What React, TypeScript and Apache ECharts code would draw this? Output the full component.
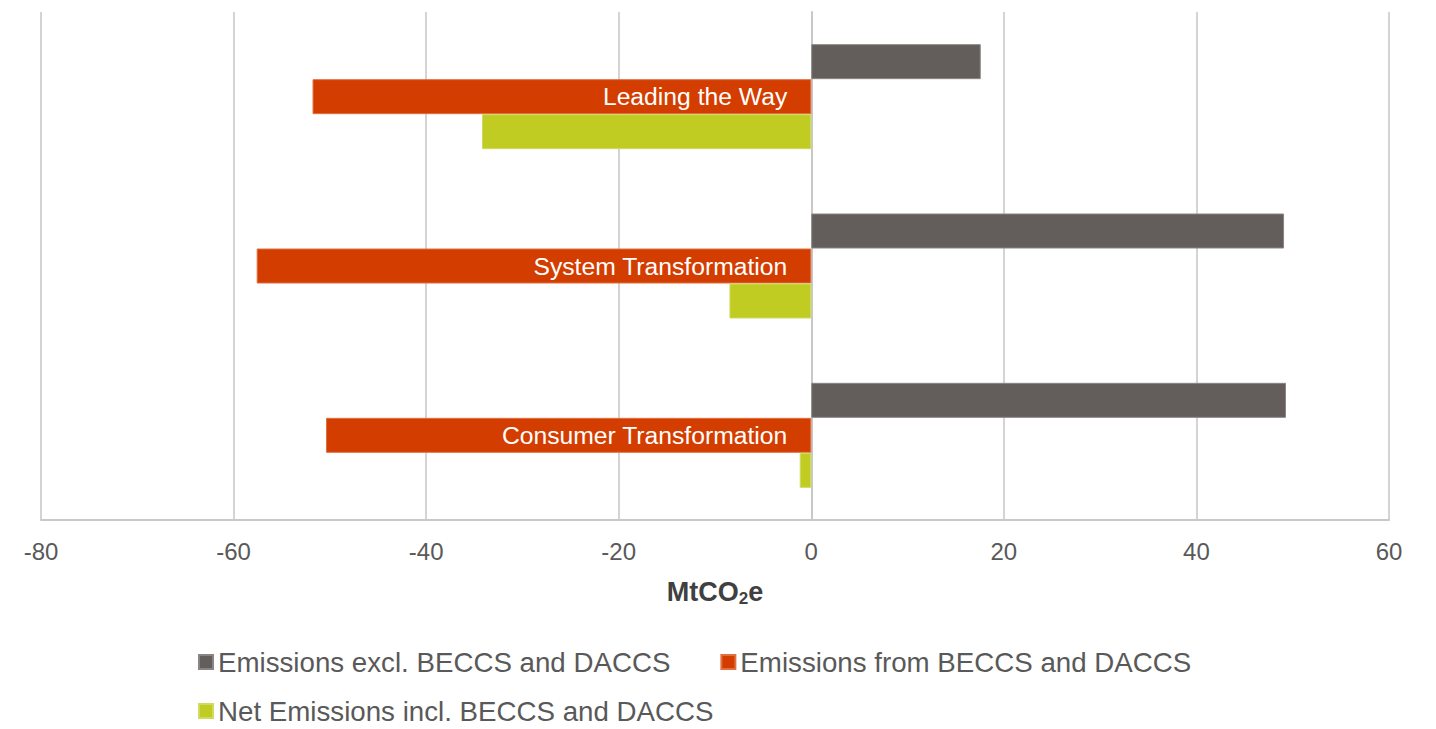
import React, { useEffect, useRef } from "react";
import * as echarts from "echarts";

const categories = ["Leading the Way", "System Transformation", "Consumer Transformation"];
const seriesNames = [
  "Emissions excl. BECCS and DACCS",
  "Emissions from BECCS and DACCS",
  "Net Emissions incl. BECCS and DACCS",
];
const excl = [17.6, 49.1, 49.3];
const fromBeccs = [-51.8, -57.6, -50.4];
const net = [-34.2, -8.5, -1.2];
const xTicks = { min: -80, max: 60, interval: 20 };

const colors = ["#635d5c", "#d43d00", "#c0cc22"];
const textColor = "#595959";
const font = "'Liberation Sans', Arial, sans-serif";

export default function App() {
  const ref = useRef<HTMLDivElement>(null);
  useEffect(() => {
    if (!ref.current) return;
    const chart = echarts.init(ref.current, undefined, { renderer: "svg" });
    chart.setOption({
      animation: false,
      textStyle: { fontFamily: font },
      grid: { left: 41, right: 47, top: 12, bottom: 209, containLabel: false },
      legend: [
        {
          data: [seriesNames[0], seriesNames[1]],
          left: 198,
          top: 648,
          padding: 0,
          itemWidth: 14,
          itemHeight: 14,
          itemGap: 50,
          icon: "rect",
          textStyle: { fontSize: 27.7, color: textColor, fontFamily: font },
        },
        {
          data: [seriesNames[2]],
          left: 198,
          top: 697,
          padding: 0,
          itemWidth: 14,
          itemHeight: 14,
          icon: "rect",
          textStyle: { fontSize: 27.7, color: textColor, fontFamily: font },
        },
      ],
      xAxis: {
        type: "value",
        min: xTicks.min,
        max: xTicks.max,
        interval: xTicks.interval,
        axisLine: { show: true, lineStyle: { color: "#c8c8c8", width: 2 } },
        axisTick: { show: false },
        splitLine: { show: true, lineStyle: { color: "#d4d4d4", width: 2 } },
        axisLabel: { fontSize: 24, color: textColor, margin: 19, fontFamily: font },
        name: "MtCO{sub|2}e",
        nameLocation: "middle",
        nameGap: 56,
        nameTextStyle: {
          fontSize: 27,
          fontWeight: "bold",
          color: "#404040",
          fontFamily: font,
          rich: {
            sub: { fontSize: 17, fontWeight: "bold", color: "#404040", verticalAlign: "bottom", padding: [14, 0, 0, 0], fontFamily: font },
          },
        },
      },
      yAxis: {
        type: "category",
        data: categories,
        inverse: true,
        axisLine: { show: true, lineStyle: { color: "#c8c8c8", width: 2 } },
        axisTick: { show: false },
        axisLabel: { show: false },
        splitLine: { show: false },
      },
      series: [
        {
          name: seriesNames[0],
          type: "bar",
          data: excl,
          barWidth: 35,
          barGap: "0%",
          barCategoryGap: "38%",
          itemStyle: { color: colors[0], borderColor: "#8a8483", borderWidth: 1 },
        },
        {
          name: seriesNames[1],
          type: "bar",
          data: fromBeccs,
          barWidth: 35,
          barGap: "0%",
          itemStyle: { color: colors[1], borderColor: "#e07040", borderWidth: 1 },
          label: {
            show: true,
            position: "insideRight",
            distance: 24,
            formatter: "{b}",
            color: "#ffffff",
            fontSize: 24.7,
            fontFamily: font,
          },
        },
        {
          name: seriesNames[2],
          type: "bar",
          data: net,
          barWidth: 35,
          barGap: "0%",
          itemStyle: { color: colors[2], borderColor: "#d0da60", borderWidth: 1 },
        },
      ],
    });
    return () => chart.dispose();
  }, []);
  return <div ref={ref} style={{ width: 1436, height: 729, position: "absolute", left: 0, top: 0 }} />;
}
